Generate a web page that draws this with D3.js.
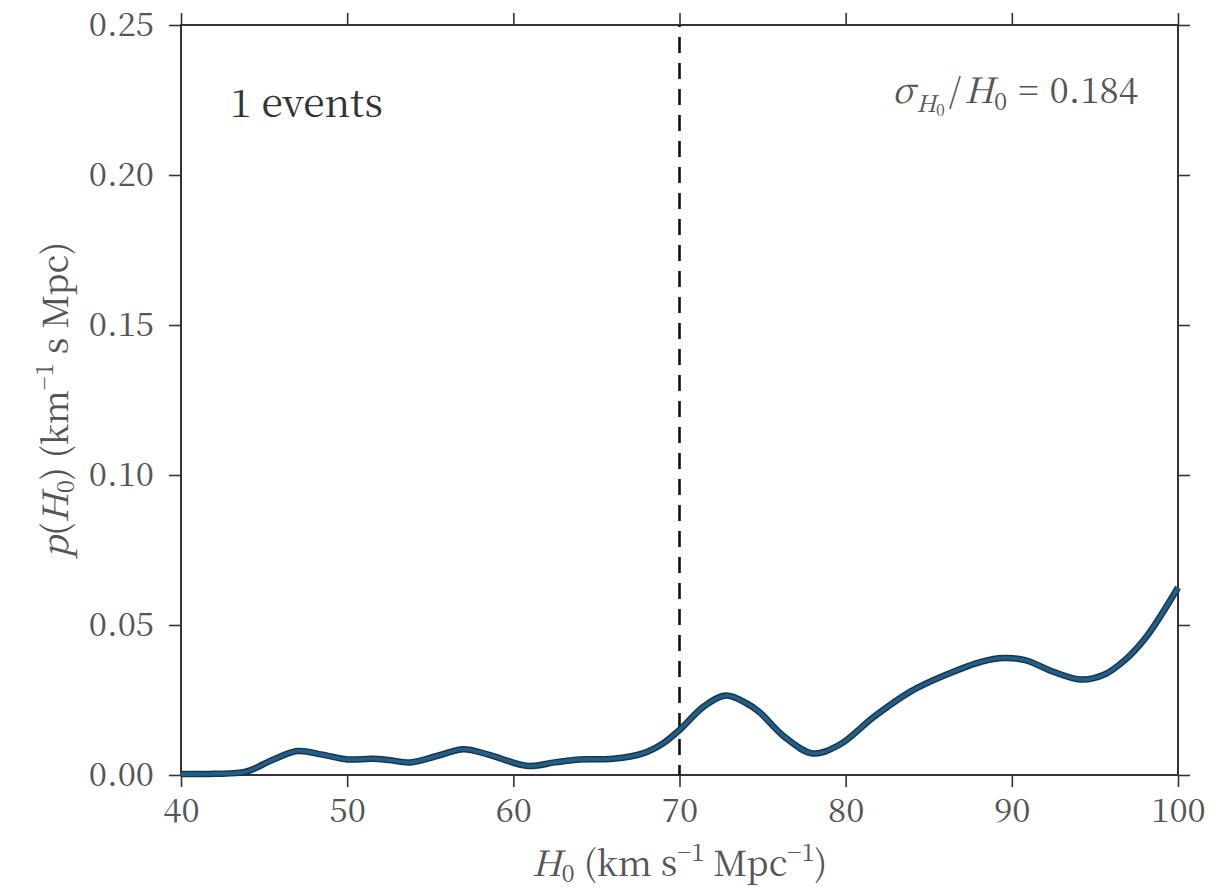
<!DOCTYPE html>
<html>
<head>
<meta charset="utf-8">
<script src="https://cdn.jsdelivr.net/npm/d3@7"></script>
<style>
  body { margin: 0; background: #fff; }
</style>
</head>
<body>
<div id="chart"></div>
<script>
// H0 grid and posterior values
const h0Values = [40, 42, 43.9, 45.5, 47.0, 48.5, 50.0, 51.5, 52.5, 53.8, 55.5, 57.0, 58.5, 60.9,
    62.5, 64, 66, 67.8, 69, 70, 71.5, 72.8, 74.0, 74.8, 76.3, 78.0, 79.6, 81.7, 83.9, 86.0,
    88.2, 89.5, 90.8, 92.5, 94.2, 95.5, 96.8, 98.1, 100];
const pValues = [0.0003, 0.0004, 0.0011, 0.0050, 0.0080, 0.0068, 0.0052, 0.0054, 0.0050, 0.0042,
    0.0065, 0.0086, 0.0068, 0.0030, 0.0042, 0.0052, 0.0054, 0.0072, 0.0105, 0.0150, 0.0230,
    0.0265, 0.0240, 0.0210, 0.0128, 0.0072, 0.0100, 0.0194, 0.0278, 0.0333, 0.0378, 0.0390,
    0.0383, 0.0344, 0.0318, 0.0333, 0.0383, 0.0461, 0.0625];
const xTicks = [40, 50, 60, 70, 80, 90, 100];
const yTicks = [0, 0.05, 0.10, 0.15, 0.20, 0.25];
const trueH0 = 70;
const nEvents = 1;
const sigmaRatio = 0.184;

const FONT = '"Noto Serif CJK SC", "Liberation Serif", serif';

const width = 1231, height = 887;
const margins = { left: 181, right: 53, top: 25, bottom: 112 };
const innerWidth = width - margins.left - margins.right;
const innerHeight = height - margins.top - margins.bottom;

const svg = d3.select("#chart").append("svg")
    .attr("width", width)
    .attr("height", height)
    .style("font-family", FONT);

const g = svg.append("g")
    .attr("transform", `translate(${margins.left},${margins.top})`);

const x = d3.scaleLinear().domain([40, 100]).range([0, innerWidth]);
const y = d3.scaleLinear().domain([0, 0.25]).range([innerHeight, 0]);

const axisColor = "#333";
const tickLen = 12;

// axes on all four sides, ticks pointing outward
function styleAxis(sel, labelled) {
    sel.attr("font-family", null);
    sel.select(".domain").remove();
    sel.selectAll(".tick line").attr("stroke", axisColor).attr("stroke-width", 1.6);
    if (!labelled) {
        sel.selectAll("text").remove();
        return;
    }
    sel.selectAll("text")
        .style("font-family", FONT)
        .attr("font-size", 33)
        .attr("fill", "#555");
}

const axBottom = g.append("g")
    .attr("transform", `translate(0,${innerHeight})`)
    .call(d3.axisBottom(x).tickValues(xTicks).tickSize(tickLen).tickPadding(12));
styleAxis(axBottom, true);

const axTop = g.append("g")
    .call(d3.axisTop(x).tickValues(xTicks).tickSize(tickLen));
styleAxis(axTop, false);

const axLeft = g.append("g")
    .call(d3.axisLeft(y).tickValues(yTicks).tickSize(tickLen).tickPadding(15).tickFormat(d3.format(".2f")));
styleAxis(axLeft, true);

const axRight = g.append("g")
    .attr("transform", `translate(${innerWidth},0)`)
    .call(d3.axisRight(y).tickValues(yTicks).tickSize(tickLen));
styleAxis(axRight, false);

// frame
g.append("rect")
    .attr("width", innerWidth)
    .attr("height", innerHeight)
    .attr("fill", "none")
    .attr("stroke", axisColor)
    .attr("stroke-width", 2);

// true H0
g.append("line")
    .attr("x1", x(trueH0)).attr("x2", x(trueH0))
    .attr("y1", 0).attr("y2", innerHeight)
    .attr("stroke", "#111")
    .attr("stroke-width", 2.6)
    .attr("stroke-dasharray", "16,10")
    .attr("stroke-dashoffset", -12);

// posterior curve: dark edge under a blue core
const pts = h0Values.map((h, i) => [h, pValues[i]]);
const line = d3.line()
    .x(d => x(d[0]))
    .y(d => y(d[1]))
    .curve(d3.curveCatmullRom.alpha(0.5));

g.append("path")
    .attr("d", line(pts))
    .attr("fill", "none")
    .attr("stroke", "#1a3448")
    .attr("stroke-width", 6.5)
    .attr("stroke-linejoin", "round");
g.append("path")
    .attr("d", line(pts))
    .attr("fill", "none")
    .attr("stroke", "#1f5f8c")
    .attr("stroke-width", 3.6)
    .attr("stroke-linejoin", "round");

// annotations
g.append("text")
    .attr("x", 49)
    .attr("y", 92)
    .attr("font-size", 39)
    .attr("fill", "#333")
    .text(`${nEvents} events`);

const sig = g.append("text")
    .attr("x", innerWidth - 40)
    .attr("y", 78)
    .attr("text-anchor", "end")
    .attr("font-size", 35)
    .attr("fill", "#555");
sig.append("tspan").attr("font-style", "italic").text("σ");
sig.append("tspan").attr("font-style", "italic").attr("font-size", 23).attr("dx", 2).attr("dy", 9).text("H");
sig.append("tspan").attr("font-size", 16).attr("dy", 4).text("0");
sig.append("tspan").attr("dx", 4).attr("dy", -13).text("/");
sig.append("tspan").attr("font-style", "italic").attr("dx", 3).text("H");
sig.append("tspan").attr("font-size", 24).attr("dy", 7).text("0");
sig.append("tspan").attr("dx", 11).attr("dy", -7).text("=");
sig.append("tspan").attr("dx", 11).text(`${sigmaRatio}`);

// x label
const xl = svg.append("text")
    .attr("x", margins.left + innerWidth / 2)
    .attr("y", 876)
    .attr("text-anchor", "middle")
    .attr("font-size", 35)
    .attr("fill", "#555");
xl.append("tspan").attr("font-style", "italic").text("H");
xl.append("tspan").attr("font-size", 24).attr("dy", 6).text("0");
xl.append("tspan").attr("dy", -6).text(" (km s");
xl.append("tspan").attr("font-size", 24).attr("dy", -15).text("−1");
xl.append("tspan").attr("dy", 15).text(" Mpc");
xl.append("tspan").attr("font-size", 24).attr("dy", -15).text("−1");
xl.append("tspan").attr("dy", 15).text(")");

// y label
const yl = svg.append("text")
    .attr("transform", `translate(68,${margins.top + innerHeight / 2}) rotate(-90)`)
    .attr("text-anchor", "middle")
    .attr("font-size", 35)
    .attr("fill", "#555");
yl.append("tspan").attr("font-style", "italic").text("p");
yl.append("tspan").text("(");
yl.append("tspan").attr("font-style", "italic").text("H");
yl.append("tspan").attr("font-size", 24).attr("dy", 6).text("0");
yl.append("tspan").attr("dy", -6).text(") (km");
yl.append("tspan").attr("font-size", 24).attr("dy", -15).text("−1");
yl.append("tspan").attr("dy", 15).text(" s Mpc)");
</script>
</body>
</html>
